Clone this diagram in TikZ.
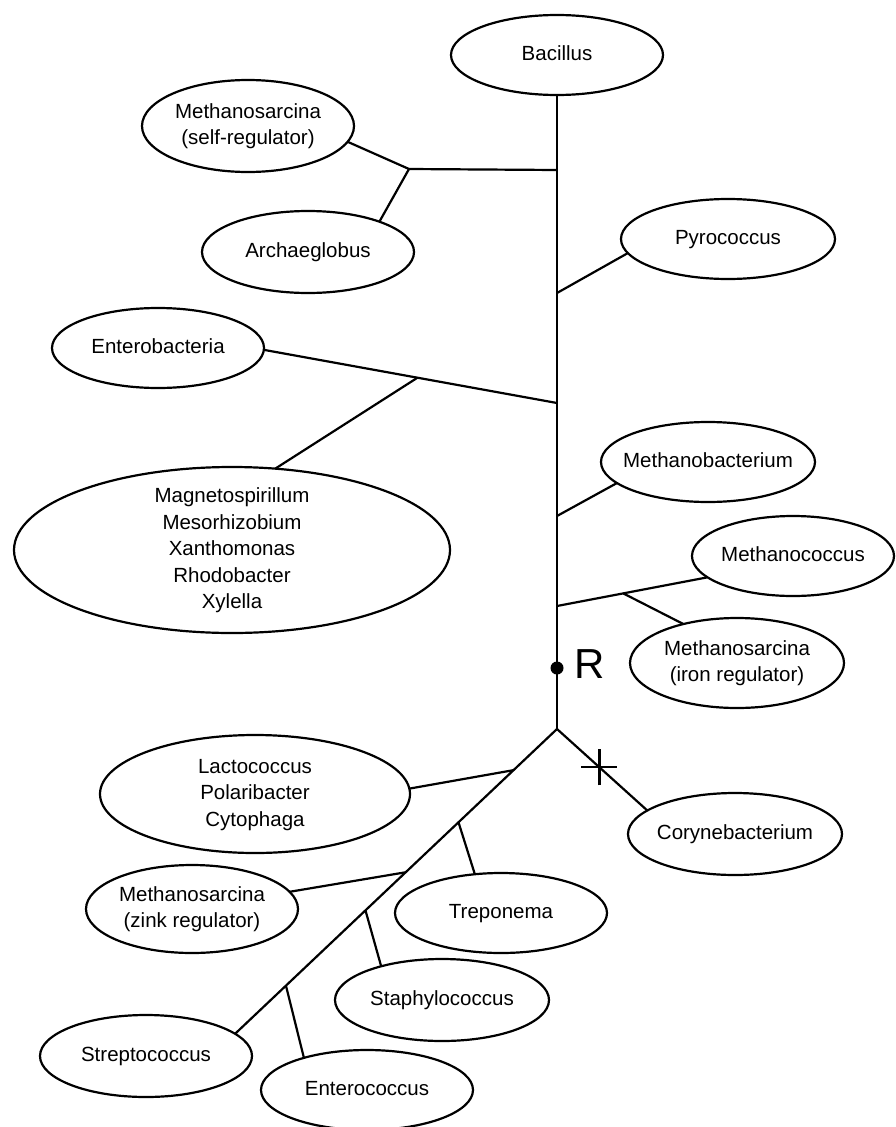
\documentclass[tikz,border=0pt]{standalone}
\usepackage{fontspec}
\setmainfont{Liberation Sans}
\usetikzlibrary{shapes.geometric,calc}
\newcommand\ct[1]{\makebox[0pt]{\smash{\raisebox{-5.5pt}{\begin{tabular}{@{}c@{}}#1\end{tabular}}}}}
\begin{document}
\begin{tikzpicture}[x=1pt,y=-1pt, line width=2.2pt,
  org/.style={ellipse, draw, inner sep=0pt, outer sep=0pt, font=\fontsize{20.5}{26.5}\selectfont}]
\useasboundingbox (0,0) rectangle (895,1127);
% organism nodes
\node[org, minimum width=212, minimum height=80] (bac) at (557,55) {\ct{Bacillus}};
\node[org, minimum width=212, minimum height=92] (selfreg) at (248,126) {\ct{Methanosarcina\\(self-regulator)}};
\node[org, minimum width=212, minimum height=82] (archae) at (308,252) {\ct{Archaeglobus}};
\node[org, minimum width=214, minimum height=80] (pyro) at (728,239) {\ct{Pyrococcus}};
\node[org, minimum width=212, minimum height=80] (entero) at (158,348) {\ct{Enterobacteria}};
\node[org, minimum width=436, minimum height=166] (magneto) at (232,550) {\ct{Magnetospirillum\\Mesorhizobium\\Xanthomonas\\Rhodobacter\\Xylella}};
\node[org, minimum width=214, minimum height=80] (mbact) at (708,462) {\ct{Methanobacterium}};
\node[org, minimum width=202, minimum height=80] (mcocc) at (793,556) {\ct{Methanococcus}};
\node[org, minimum width=214, minimum height=90] (iron) at (737,663) {\ct{Methanosarcina\\(iron regulator)}};
\node[org, minimum width=214, minimum height=82] (coryne) at (735,834) {\ct{Corynebacterium}};
\node[org, minimum width=310, minimum height=118] (lacto) at (255,794) {\ct{Lactococcus\\Polaribacter\\Cytophaga}};
\node[org, minimum width=212, minimum height=88] (zink) at (192,909) {\ct{Methanosarcina\\(zink regulator)}};
\node[org, minimum width=212, minimum height=80] (trepo) at (501,913) {\ct{Treponema}};
\node[org, minimum width=214, minimum height=82] (staph) at (442,1000) {\ct{Staphylococcus}};
\node[org, minimum width=212, minimum height=82] (strep) at (146,1056) {\ct{Streptococcus}};
\node[org, minimum width=212, minimum height=80] (enteroc) at (367,1090) {\ct{Enterococcus}};
% trunk
\coordinate (split) at (557,729);
\coordinate (t1) at (557,170);
\coordinate (t2) at (557,293);
\coordinate (t3) at (557,403);
\coordinate (t4) at (557,516);
\coordinate (t5) at (557,606);
\coordinate (jA) at (409,169);
\draw (bac) -- (split);
\draw (t1) -- (jA);
\draw (selfreg.-9) -- (jA) -- (archae.23);
\draw (t2) -- (pyro.188);
\draw (t3) -- (entero.-1);
\coordinate (jE) at ($(entero.-1)!0.524!(t3)$);
\draw (jE) -- (magneto.62);
\draw (t4) -- (mbact.193);
\draw (t5) -- (mcocc.194);
\coordinate (jM) at ($(t5)!0.44!(mcocc.194)$);
\draw (jM) -- (iron.144);
% root
\node[circle, fill, inner sep=0pt, minimum size=13pt] (rdot) at (557,668) {};
\node[anchor=base west, inner sep=0pt, font=\fontsize{42}{42}\selectfont] (rlab) at (573,678) {R};
% corynebacterium branch with cross
\draw (split) -- (coryne.165);
\coordinate (cross) at ($(split)!0.47!(coryne.165)$);
\draw ([xshift=-18pt]cross) -- ([xshift=18pt]cross);
\draw ([yshift=-18pt]cross) -- ([yshift=18pt]cross);
% left branch
\draw (split) -- (strep.14);
\coordinate (jL1) at ($(split)!0.135!(strep.14)$);
\coordinate (jL2) at ($(split)!0.306!(strep.14)$);
\coordinate (jL3) at ($(split)!0.470!(strep.14)$);
\coordinate (jL4) at ($(split)!0.595!(strep.14)$);
\coordinate (jL5) at ($(split)!0.842!(strep.14)$);
\draw (jL1) -- (lacto.2);
\draw (jL2) -- (trepo.124);
\draw (jL3) -- (zink.10);
\draw (jL4) -- (staph.151);
\draw (jL5) -- (enteroc.153);
\end{tikzpicture}
\end{document}
